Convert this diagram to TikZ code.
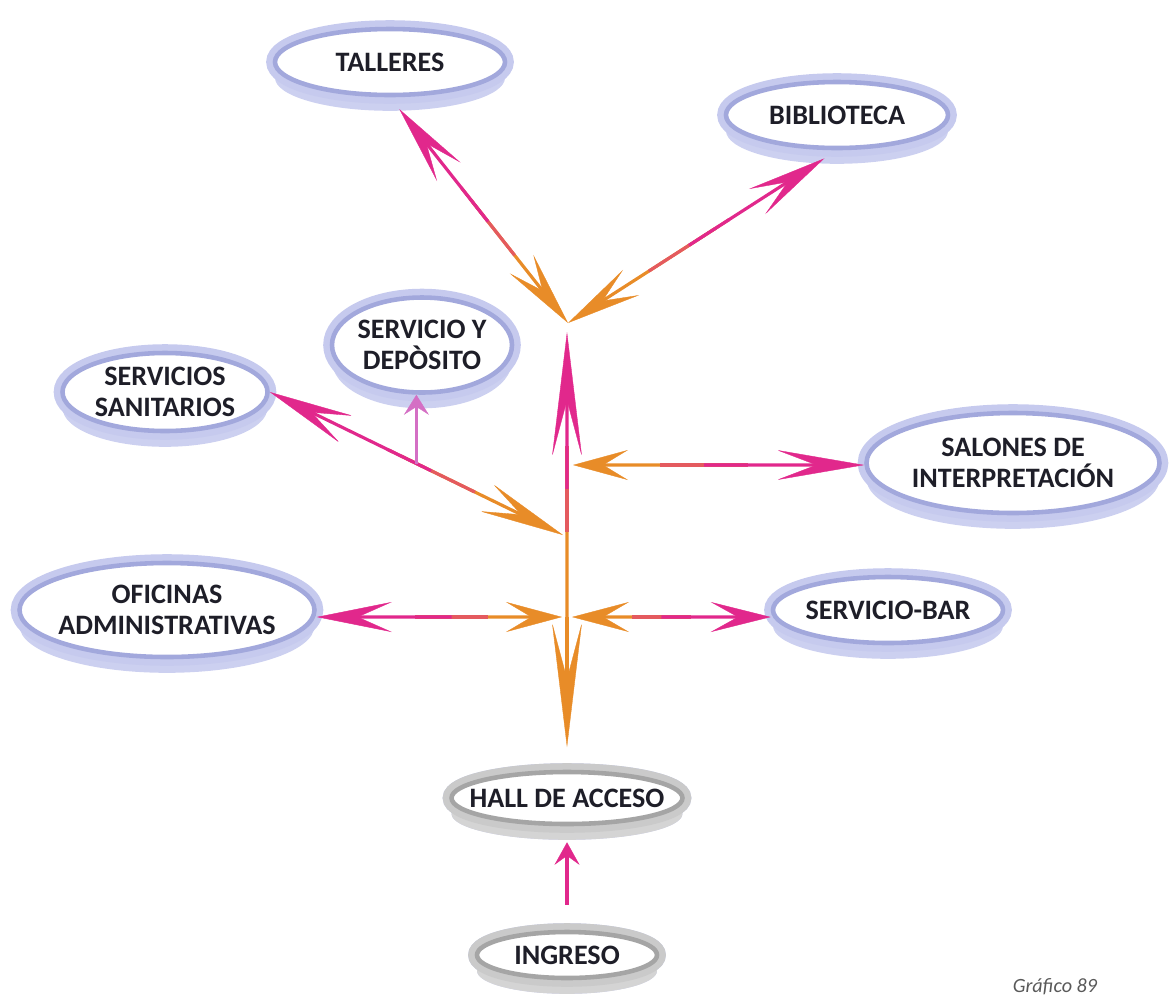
\documentclass[tikz,border=0pt]{standalone}
\usepackage{fontspec}
\setmainfont{Carlito}
\usepackage{xcolor}
\usepackage{tikz}
\usetikzlibrary{arrows.meta, positioning, calc, shapes.geometric, shadows}
\definecolor{bubedge}{RGB}{162, 168, 220}
\definecolor{bubhalo}{RGB}{198, 202, 238}
\definecolor{bubshade}{RGB}{204, 208, 240}
\definecolor{grayedge}{RGB}{165, 165, 165}
\definecolor{grayhalo}{RGB}{202, 202, 202}
\definecolor{grayshade}{RGB}{212, 212, 212}
\definecolor{arrorange}{RGB}{232, 140, 40}
\definecolor{arrmagenta}{RGB}{225, 40, 140}
\definecolor{arrmix}{RGB}{228, 90, 95}
\definecolor{arrpale}{RGB}{212, 111, 196}
\definecolor{txtdark}{RGB}{30, 30, 40}

% orange end -> magenta end, split in three tints
\newcommand{\gradlink}[5][]{%
  \draw[conn, arrorange, #5] ($(#2)!0.45!(#3)$) -- (#3);
  \draw[conn, arrmix] ($(#2)!0.4!(#3)$) -- ($(#2)!0.7!(#3)$);
  \draw[conn, arrmagenta, #4, #1] (#2) -- ($(#2)!0.55!(#3)$);
}

\begin{document}
\begin{tikzpicture}[
    bubble/.style={ellipse, fill=white, draw=bubedge, line width=2.6pt,
                   inner xsep=-9pt, inner ysep=-2pt, align=center,
                   font=\fontsize{16}{17.5}\selectfont\bfseries, text=txtdark,
                   drop shadow={shadow xshift=0pt, shadow yshift=-9pt,
                                fill=bubshade, opacity=1},
                   preaction={draw=bubhalo, line width=10pt}},
    graybubble/.style={bubble, draw=grayedge,
                   drop shadow={shadow xshift=0pt, shadow yshift=-9pt,
                                fill=grayshade, opacity=1},
                   preaction={draw=grayhalo, line width=10pt}},
    conn/.style={line width=1.8pt},
    mtip/.style={arrows={Stealth[length=#1, width=0.6cm, inset'=0pt 0.45, line width=0.2pt]}-},
    otip/.style={arrows=-{Stealth[length=#1, width=0.6cm, inset'=0pt 0.45, line width=0.2pt]}}
]
\useasboundingbox (0,0) rectangle (23.38,-20.14);

%% Rooms
\node[bubble, minimum width=4.6cm,  minimum height=1.32cm] (talleres)   at (7.80, -1.24) {TALLERES};
\node[bubble, minimum width=4.44cm, minimum height=1.32cm] (biblioteca) at (16.74,-2.30) {BIBLIOTECA};
\node[bubble, minimum width=3.6cm,  minimum height=1.9cm]  (deposito)   at (8.44, -6.90) {SERVICIO Y\\DEPÒSITO};
\node[bubble, minimum width=4.1cm,  minimum height=1.56cm] (sanitarios) at (3.30, -7.84) {SERVICIOS\\SANITARIOS};
\node[bubble, minimum width=5.9cm,  minimum height=1.88cm] (oficinas)   at (3.34,-12.20) {OFICINAS\\ADMINISTRATIVAS};
\node[bubble, minimum width=5.86cm, minimum height=2.0cm]  (salones)    at (20.26,-9.26) {SALONES DE\\INTERPRETACIÓN};
\node[bubble, minimum width=4.6cm,  minimum height=1.32cm] (bar)        at (17.76,-12.20) {SERVICIO-BAR};
\node[graybubble, minimum width=4.36cm, minimum height=1.04cm] (hall)    at (11.34,-15.96) {HALL DE ACCESO};
\node[graybubble, minimum width=3.6cm,  minimum height=0.92cm] (ingreso) at (11.34,-19.10) {INGRESO};

%% Hubs on the spine
\coordinate (fork)   at (11.36, -6.46);
\coordinate (top)    at (11.34, -6.64);
\coordinate (cross)  at (11.34,-12.34);
\coordinate (ofihub) at (11.24,-12.34);
\coordinate (barhub) at (11.44,-12.34);
\coordinate (salhub) at (11.46, -9.30);
\coordinate (sanhub) at (11.26,-10.70);
\coordinate (ofiend) at (oficinas.east |- cross);
\coordinate (barend) at (bar.west |- cross);
\coordinate (salend) at (salones.west |- salhub);
\coordinate (branch) at ($(sanitarios.east)!0.5!(sanhub)$);

%% Connectors
\gradlink[shorten <=0.3cm]{talleres.south}{fork}{mtip=1.6cm}{otip=1.5cm}
\gradlink[shorten <=0.3cm]{biblioteca.south}{fork}{mtip=1.6cm}{otip=1.5cm}
\gradlink{sanitarios.east}{sanhub}{mtip=1.7cm}{otip=1.7cm}
\gradlink{salend}{salhub}{mtip=1.75cm}{otip=1.1cm}
\gradlink{ofiend}{ofihub}{mtip=1.5cm}{otip=1.12cm}
\gradlink{barend}{barhub}{mtip=1.2cm}{otip=1.14cm}
\gradlink{top}{cross}{mtip=2.5cm}{}
\draw[conn, arrorange, otip=2.5cm, shorten >=0.45cm] (cross) -- (hall.north);
\draw[line width=1.4pt, arrpale, -{Stealth[length=0.4cm, width=0.5cm, inset'=0pt 0.4, line width=0.2pt]}]
    (branch) -- (branch |- deposito.south);
\draw[conn, arrmagenta, -{Stealth[length=0.45cm, width=0.5cm, inset'=0pt 0.4, line width=0.2pt]},
      shorten <=0.5cm, shorten >=0.32cm] (ingreso) -- (hall);

\node[font=\fontsize{11.5}{13}\selectfont\itshape, text=black!65] (caption) at (21.1,-19.74) {Gráfico 89};

\end{tikzpicture}
\end{document}
